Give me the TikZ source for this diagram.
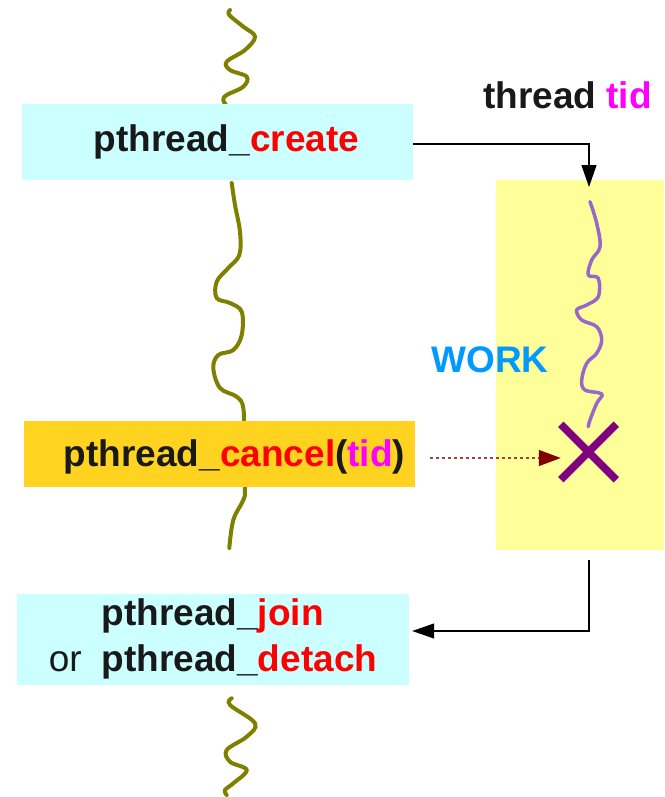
\documentclass[tikz,border=0pt]{standalone}
\usepackage{fontspec}
\setmainfont{Liberation Sans}
\usepackage{xcolor}
\usetikzlibrary{arrows.meta,shapes.misc}
\definecolor{boxcyan}{HTML}{CCFFFF}
\definecolor{boxorange}{HTML}{FFD320}
\definecolor{workyellow}{HTML}{FFFF99}
\definecolor{workblue}{HTML}{0099FF}
\definecolor{threadolive}{HTML}{808000}
\definecolor{wavepurple}{HTML}{9966CC}
\definecolor{killpurple}{HTML}{800080}
\definecolor{killred}{HTML}{800000}
\definecolor{fnred}{HTML}{FF0000}
\definecolor{tidpink}{HTML}{FF00FF}
\newcommand{\bigfont}{\fontsize{37}{45.5}\selectfont\bfseries}
\newcommand{\fnname}[1]{\textcolor{fnred}{#1}}
\newcommand{\tidname}{\textcolor{tidpink}{tid}}
\tikzset{
  callbox/.style={rectangle,fill=boxcyan,inner sep=0pt,minimum width=391pt,minimum height=76pt,text=black!90,font=\bigfont},
  cancelbox/.style={rectangle,fill=boxorange,inner sep=0pt,minimum width=391pt,minimum height=66pt,text depth=1pt,text=black!90,font=\bigfont},
  workbox/.style={rectangle,fill=workyellow,inner sep=0pt,minimum width=168pt,minimum height=370pt},
  worklabel/.style={text=workblue,font=\bigfont,inner sep=0pt},
  toplabel/.style={text=black!90,font=\bigfont,inner sep=0pt},
  killmark/.style={cross out,draw=killpurple,line width=7.5pt,minimum size=48pt,inner sep=0pt},
  wave/.style={line width=4pt,threadolive,line cap=round},
  subwave/.style={line width=3.5pt,wavepurple,line cap=round},
  flow/.style={line width=1.2pt,black,-{Triangle[length=22pt,width=15pt]}},
  killarrow/.style={line width=1.2pt,killred!75,dash pattern=on 3pt off 3pt,-{Triangle[length=22pt,width=16pt,color=killred]}}
}
\begin{document}
\begin{tikzpicture}[x=1pt,y=-1pt]
  \fill[white] (0,0) rectangle (664,797);
  \useasboundingbox (0,0) rectangle (664,797);

  % main thread
  \draw[wave] plot[smooth,tension=0.6] coordinates {(230,10) (229.3,15) (243.3,26.7) (255,36.7) (245,50) (226.7,61.7) (230,70) (246.7,76.7) (243.3,86.7) (226.7,95) (223.3,100) (226.7,106)};
  \draw[wave] plot[smooth,tension=0.6] coordinates {(231.7,183) (235,205) (240,232) (239.3,255) (228.3,268) (216.7,281.7) (216.7,298) (230,303) (241.7,311.7) (241.7,335) (233.3,350) (218.3,355) (213.3,368) (220,388) (236.7,396.7) (243.3,408) (244,440) (245,488) (243.3,500) (233.3,520) (229.3,548)};
  \draw[wave] plot[smooth,tension=0.6] coordinates {(231.7,698.3) (230,705) (255,723.3) (246.7,736.7) (226.7,750) (230,761.7) (246.7,770) (233.3,783.3) (225,790) (226.7,795)};

  \node[callbox] (create) at (217.5,142) {\hspace*{18pt}pthread\_\fnname{create}};
  \node[cancelbox] (cancel) at (219.5,454) {\hspace*{30pt}pthread\_\fnname{cancel}(\tidname)};
  \node[callbox,minimum width=392pt,minimum height=87pt] (joinbox) at (213,639.5)
    {\begin{tabular}{@{}r@{\hspace{20pt}}l@{}}
       & pthread\_\fnname{join}\\
       \mdseries or & pthread\_\fnname{detach}
     \end{tabular}};

  % new thread
  \node[workbox] (work) at (580,365) {};
  \node[worklabel] (worktxt) at (490,360) {WORK};
  \node[toplabel,anchor=east] (tidlbl) at (652,95) {thread \tidname};
  \draw[subwave] plot[smooth,tension=0.6] coordinates {(590,201.7) (596.7,223.3) (600,246.7) (591.7,260) (588.3,275) (598.3,278.3) (598.3,296.7) (586.7,305) (576.7,310) (581.7,320) (596.7,326.7) (601.7,340) (596.7,353.3) (586.7,363.3) (581.7,380) (585,390) (601.7,394) (596.7,403.3) (590,420) (588.3,426.7)};
  \node[killmark] (killx) at (588.5,452) {};

  \coordinate (tidin) at (589,187);
  \coordinate (waitout) at (589,560);
  \draw[flow] ([yshift=-2pt]create.east) -| (tidin);
  \draw[killarrow] ([xshift=15pt,yshift=-4pt]cancel.east) -- ([yshift=-6pt]killx.west);
  \draw[flow] (waitout) |- ([xshift=3pt,yshift=8.5pt]joinbox.east);
\end{tikzpicture}
\end{document}
